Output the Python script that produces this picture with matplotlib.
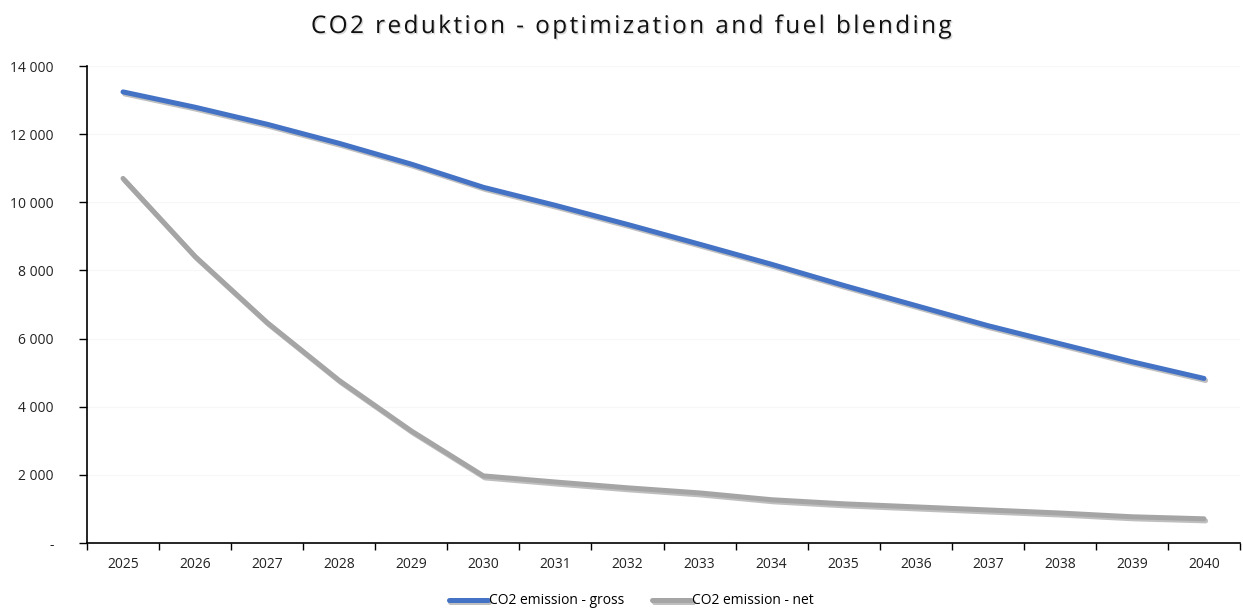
import matplotlib
matplotlib.use("Agg")
import matplotlib.pyplot as plt
import matplotlib.patheffects as pe
from matplotlib.ticker import FuncFormatter, FixedLocator
import numpy as np

plt.rcParams["font.family"] = ["Open Sans", "DejaVu Sans"]

years = [2025, 2026, 2027, 2028, 2029, 2030, 2031, 2032,
         2033, 2034, 2035, 2036, 2037, 2038, 2039, 2040]
gross = [13240, 12790, 12290, 11730, 11120, 10440, 9910, 9350,
         8770, 8180, 7560, 6970, 6380, 5850, 5320, 4830]
net = [10700, 8410, 6470, 4770, 3290, 1970, 1790, 1620,
       1470, 1270, 1150, 1060, 970, 880, 770, 710]

TITLE = "CO2 reduktion - optimization and fuel blending"
BLUE = "#4472C4"
GREY = "#A5A5A5"


def fmt_thousands(v, _pos):
    if v == 0:
        return "-"
    return f"{v:,.0f}".replace(",", " ")


fig = plt.figure(figsize=(12.43, 6.10), dpi=100)
ax = fig.add_axes([87 / 1243, 1 - 543 / 610, 1153 / 1243, (543 - 66) / 610])

x = np.arange(len(years))
shadow = [pe.SimpleLineShadow(offset=(1.2, -1.5), shadow_color="black", alpha=0.25),
          pe.Normal()]
ax.plot(x, gross, color=BLUE, lw=3.6, solid_capstyle="round",
        label="CO2 emission - gross", path_effects=shadow)
ax.plot(x, net, color=GREY, lw=3.6, solid_capstyle="round",
        label="CO2 emission - net", path_effects=shadow)

ax.set_xlim(-0.5, len(years) - 0.5)
ax.set_ylim(0, 14000)
ax.set_yticks(np.arange(0, 14001, 2000))
ax.yaxis.set_major_formatter(FuncFormatter(fmt_thousands))
ax.set_xticks(x)
ax.set_xticklabels([str(y) for y in years])
ax.xaxis.set_minor_locator(FixedLocator(np.arange(-0.5, len(years), 1.0)))
ax.tick_params(axis="x", which="major", length=0, pad=10, labelsize=10, colors="#222222")
ax.tick_params(axis="x", which="minor", length=5, width=1, direction="out")
ax.tick_params(axis="y", length=6, width=1, direction="out", pad=18, labelsize=10,
               colors="black", labelcolor="#222222")

ax.grid(axis="y", color="#f7f7f7", lw=0.8)
ax.set_axisbelow(True)
for side in ("top", "right"):
    ax.spines[side].set_visible(False)
for side in ("left", "bottom"):
    ax.spines[side].set_linewidth(1.2)
    ax.spines[side].set_color("black")

# title is letter-spaced with hair spaces and has a soft drop shadow
spaced = "\u200a".join(TITLE)
fig.text(0.507, 1 - 27 / 610, spaced, ha="center", va="center", fontsize=17.5,
         color="#111111",
         path_effects=[pe.withSimplePatchShadow(offset=(1, -1), shadow_rgbFace="black",
                                                alpha=0.15)])

fig.legend(loc="center", bbox_to_anchor=(0.508, 1 - 601 / 610), ncol=2, frameon=False,
           fontsize=10, handlelength=2.8, handletextpad=0.1, columnspacing=2.0)

fig.savefig("out.png", dpi=100)
